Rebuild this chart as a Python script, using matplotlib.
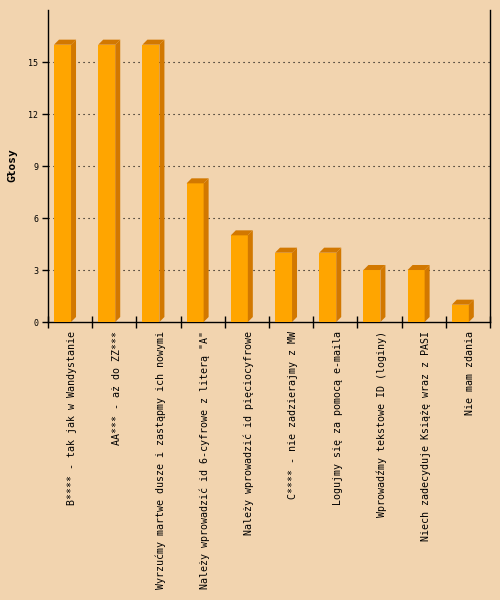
import matplotlib.pyplot as plt
from matplotlib.patches import Polygon

# data
labels = [
    'B**** - tak jak w Wandystanie',
    'AA*** - aż do ZZ***',
    'Wyrzućmy martwe dusze i zastąpmy ich nowymi',
    'Należy wprowadzić id 6-cyfrowe z literą "A"',
    'Należy wprowadzić id pięciocyfrowe',
    'C**** - nie zadzierajmy z MW',
    'Logujmy się za pomocą e-maila',
    'Wprowadźmy tekstowe ID (loginy)',
    'Niech zadecyduje Książę wraz z PASI',
    'Nie mam zdania',
]
votes = [16, 16, 16, 8, 5, 4, 4, 3, 3, 1]
yticks = [0, 3, 6, 9, 12, 15]

bg = '#F2D4AF'
front = '#FFA500'
side = '#D27800'
mono = 'DejaVu Sans Mono'

fig = plt.figure(figsize=(5, 6), dpi=100, facecolor=bg)
ax = fig.add_axes([0.096, 0.4633, 0.884, 0.52])
ax.set_facecolor(bg)
ax.set_xlim(0, len(votes))
ax.set_ylim(0, 18)

# bar geometry in data units
off = 0.136
w = 0.385
dx = 0.113
dy = 0.29

for i, v in enumerate(votes):
    x0 = i + off
    ax.bar(x0, v, width=w, align='edge', color=front, zorder=3, linewidth=0)
    # top face
    ax.add_patch(Polygon([(x0, v), (x0 + dx, v + dy), (x0 + w + dx, v + dy), (x0 + w, v)],
                         closed=True, color=side, zorder=3, linewidth=0))
    # side face
    ax.add_patch(Polygon([(x0 + w, 0), (x0 + w + dx, dy), (x0 + w + dx, v + dy), (x0 + w, v)],
                         closed=True, color=side, zorder=3, linewidth=0))

for y in yticks[1:]:
    ax.axhline(y, color='black', lw=0.8, dashes=(1, 3.5), zorder=1)

ax.spines['top'].set_visible(False)
for s in ['left', 'right', 'bottom']:
    ax.spines[s].set_linewidth(1)
    ax.spines[s].set_color('black')

ax.set_yticks(yticks)
ax.set_yticklabels([str(t) for t in yticks], fontsize=6, family=mono)
ax.tick_params(axis='y', direction='out', length=4, width=1, pad=3)

ax.set_xticks(range(len(votes) + 1))
ax.set_xticklabels([])
ax.tick_params(axis='x', direction='inout', length=8, width=1)

for i, lab in enumerate(labels):
    ax.text(i + 0.55, -0.5, lab, rotation=90, ha='center', va='top',
            fontsize=7.2, family=mono)

fig.text(0.025, 0.725, 'Głosy', rotation=90, ha='center', va='center',
         fontsize=8, fontweight='bold', family=mono)

fig.savefig('out.png', dpi=100, facecolor=bg)
